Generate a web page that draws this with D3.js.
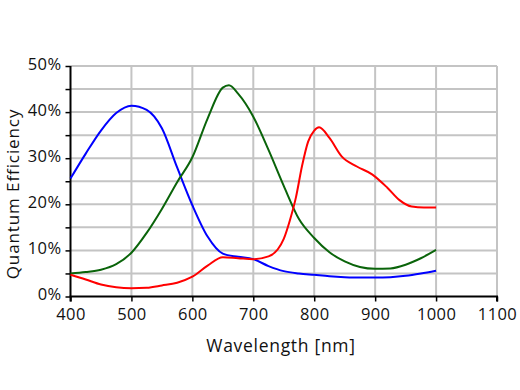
<!DOCTYPE html>
<html><head><meta charset="utf-8">
<script src="https://cdn.jsdelivr.net/npm/d3@7"></script>
<style>body{margin:0;background:#fff}svg{display:block}text{font-family:"Open Sans",sans-serif;fill:#111}</style>
</head><body><svg id="c" width="520" height="390"></svg>
<script>
const xTicks = [400,500,600,700,800,900,1000,1100];
const yTicks = [0,10,20,30,40,50];
const blueWl = [400,425,450,475,500,525,550,575,600,625,650,675,700,725,750,775,800,825,850,875,900,925,950,975,1000];
const blueQE = [25.6,31.0,36.0,39.8,41.4,40.5,36.5,28.0,19.8,13.0,9.3,8.6,8.1,6.6,5.5,5.0,4.7,4.4,4.2,4.1,4.1,4.2,4.5,5.0,5.6];
const greenWl = [400,425,450,475,500,525,550,575,600,625,650,660,675,700,725,750,775,800,825,850,875,900,925,950,975,1000];
const greenQE = [5.0,5.3,5.8,7.0,9.5,13.8,19.0,24.8,30.2,38.6,45.3,45.8,44.0,39.0,31.8,24.0,16.8,12.7,9.6,7.6,6.4,6.0,6.1,6.9,8.3,10.1];
const redWl = [400,425,450,475,500,525,550,575,600,625,650,675,700,725,740,750,760,770,780,790,800,808,825,845,870,895,920,940,960,980,1000];
const redQE = [4.7,3.7,2.6,2.0,1.8,1.9,2.4,3.0,4.3,6.7,8.5,8.3,8.1,8.7,10.2,12.5,16.5,21.5,28.3,33.6,36.0,36.7,34.4,30.4,28.2,26.5,23.6,20.9,19.5,19.3,19.3];

const svg = d3.select("#c");
const x = d3.scaleLinear().domain([400,1100]).range([70.5,497]);
const y = d3.scaleLinear().domain([0,50]).range([296.5,66]);

// grid
const g = svg.append("g");
g.selectAll(".hg").data(d3.range(5,51,5)).join("line")
  .attr("x1",x(400)).attr("x2",x(1100)).attr("y1",d=>y(d)).attr("y2",d=>y(d))
  .attr("stroke","#c4c4c4").attr("stroke-width",2);
g.selectAll(".vg").data(xTicks.slice(1)).join("line")
  .attr("x1",d=>x(d)).attr("x2",d=>x(d)).attr("y1",y(0)).attr("y2",y(50))
  .attr("stroke","#c4c4c4").attr("stroke-width",2);

// axes
const xAxis = d3.axisBottom(x).tickValues(xTicks).tickSize(5).tickPadding(7).tickFormat(d3.format("d"));
const xa = svg.append("g").attr("transform",`translate(0,${y(0)})`).call(xAxis);
xa.select(".domain").attr("stroke","#000").attr("stroke-width",2).attr("d",`M${x(400)},5V0H${x(1100)}V5`);
xa.selectAll(".tick line").attr("stroke","#000").attr("stroke-width",1.5);
xa.selectAll("text").attr("font-size",16.5).attr("font-family","Open Sans").attr("fill","#111").attr("letter-spacing","0.4");

const ya = svg.append("g").attr("transform",`translate(${x(400)},0)`)
  .call(d3.axisLeft(y).tickValues(d3.range(0,51,5)).tickSize(5).tickPadding(4).tickFormat(d=>d%10===0?d+"%":""));
ya.select(".domain").attr("stroke","#000").attr("stroke-width",2).attr("d",`M0,${y(50)}V${y(0)}`);
ya.selectAll(".tick line").attr("stroke","#000").attr("stroke-width",1.5);
ya.selectAll("text").attr("font-size",16.5).attr("font-family","Open Sans").attr("fill","#111").attr("dy","0.2em").attr("letter-spacing","0.4");

// lines
const line = d3.line().x(d=>x(d[0])).y(d=>y(d[1])).curve(d3.curveMonotoneX);
const series = [
  {wl:blueWl, qe:blueQE, color:"#0000ff"},
  {wl:greenWl, qe:greenQE, color:"#0a640a"},
  {wl:redWl, qe:redQE, color:"#ff0000"}
];
series.forEach(s=>{
  svg.append("path").datum(d3.zip(s.wl,s.qe)).attr("d",line)
    .attr("fill","none").attr("stroke",s.color).attr("stroke-width",2);
});

// titles
svg.append("text").attr("x",281).attr("y",352).attr("text-anchor","middle")
  .attr("font-size",17.5).attr("letter-spacing","0.7").text("Wavelength [nm]");
svg.append("text").attr("transform","translate(19,194) rotate(-90)").attr("text-anchor","middle")
  .attr("font-size",17).attr("letter-spacing","0.9").text("Quantum Efficiency");
</script></body></html>
